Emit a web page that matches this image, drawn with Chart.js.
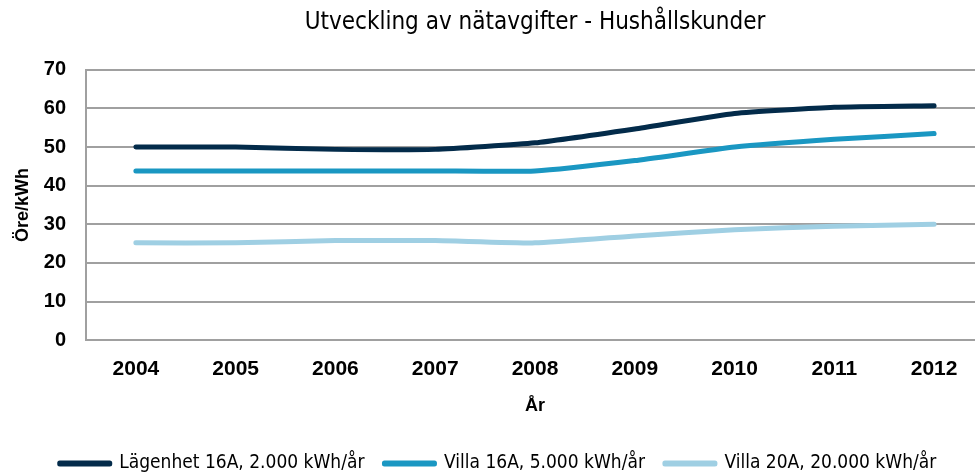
<!DOCTYPE html>
<html>
<head>
<meta charset="utf-8">
<script src="https://cdn.jsdelivr.net/npm/chart.js@4.4.0/dist/chart.umd.min.js"></script>
<style>
  html, body { margin: 0; padding: 0; background: #fff; overflow: hidden; }
  #wrap { width: 984px; height: 473px; position: relative; }
</style>
</head>
<body>
<div id="wrap"><canvas id="chart"></canvas></div>
<script>
// ===== DATA =====
const years = ['2004', '2005', '2006', '2007', '2008', '2009', '2010', '2011', '2012'];
const lagenhet16A = [50.0, 50.0, 49.4, 49.4, 51.1, 54.7, 58.7, 60.3, 60.7];
const villa16A = [43.8, 43.8, 43.8, 43.8, 43.8, 46.5, 50.0, 52.0, 53.5];
const villa20A = [25.2, 25.2, 25.8, 25.8, 25.2, 27.0, 28.6, 29.5, 30.0];
const seriesNames = ['Lägenhet 16A, 2.000 kWh/år', 'Villa 16A, 5.000 kWh/år', 'Villa 20A, 20.000 kWh/år'];
const yTicks = [0, 10, 20, 30, 40, 50, 60, 70];

const narrow = "'Liberation Sans Narrow', 'DejaVu Sans Condensed', sans-serif";
const sans = "'Liberation Sans', Arial, sans-serif";

function line(label, data, color) {
    return {
        label: label, data: data,
        borderColor: color, backgroundColor: color,
        borderWidth: 5, borderCapStyle: 'round', borderJoinStyle: 'round',
        pointRadius: 0, tension: 0.15, fill: false
    };
}

new Chart(document.getElementById('chart'), {
    type: 'line',
    data: {
        labels: years,
        datasets: [
            line(seriesNames[0], lagenhet16A, '#032b4a'),
            line(seriesNames[1], villa16A, '#1a97c2'),
            line(seriesNames[2], villa20A, '#9fcfe3')
        ]
    },
    options: {
        responsive: true, maintainAspectRatio: false, animation: false,
        layout: { padding: { left: 12, right: 0, top: 8, bottom: -10 } },
        plugins: {
            title: {
                display: true, fullSize: false,
                text: 'Utveckling av nätavgifter - Hushållskunder',
                color: '#000', font: { family: narrow, size: 24, weight: 'normal' },
                padding: { top: 0, bottom: 33 }
            },
            legend: {
                position: 'bottom',
                labels: {
                    color: '#000', font: { family: narrow, size: 19 },
                    boxWidth: 50, boxHeight: 1, padding: 20
                }
            },
            tooltip: { enabled: false }
        },
        scales: {
            x: {
                offset: true,
                grid: { display: false, drawTicks: false },
                border: { color: '#a0a0a0', width: 2 },
                ticks: { color: '#000', font: { family: sans, size: 21, weight: 'bold' }, padding: 16 },
                title: { display: true, text: 'År', color: '#000', font: { family: sans, size: 18, weight: 'bold' }, padding: { top: -2, bottom: 17 } }
            },
            y: {
                min: 0, max: 70,
                afterBuildTicks: axis => { axis.ticks = yTicks.map(v => ({ value: v })); },
                afterFit: axis => { axis.width = 74; },
                grid: { color: '#a0a0a0', lineWidth: 2, drawTicks: false },
                border: { color: '#a0a0a0', width: 2 },
                ticks: { color: '#000', font: { family: sans, size: 20, weight: 'bold' }, padding: 20 },
                title: { display: true, text: 'Öre/kWh', color: '#000', font: { family: sans, size: 18, weight: 'bold' }, padding: { top: 0, bottom: 0 } }
            }
        }
    }
});
</script>
</body>
</html>
